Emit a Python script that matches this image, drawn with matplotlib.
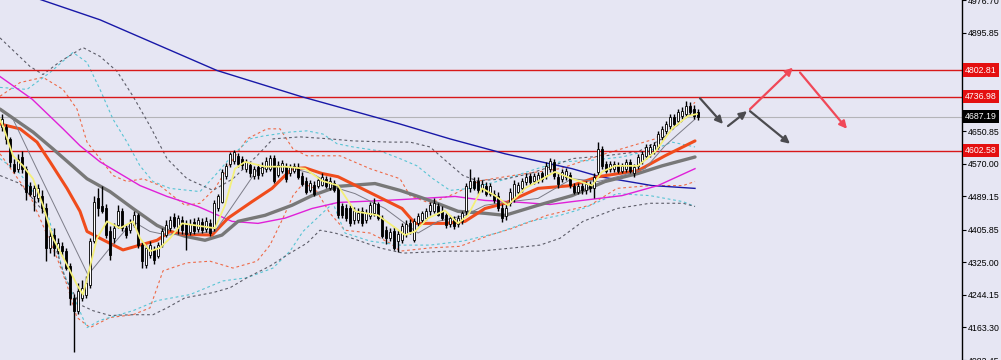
import numpy as np
import matplotlib.pyplot as plt
from matplotlib.transforms import blended_transform_factory

# candle data (one bar per index)
opens = [4661, 4661, 4632, 4570, 4558, 4587, 4558, 4516, 4491, 4484,
         4491, 4459, 4361, 4393, 4353, 4365, 4353, 4316, 4237, 4205,
         4237, 4245, 4269, 4378, 4484, 4464, 4459, 4402, 4385, 4417,
         4452, 4410, 4405, 4417, 4442, 4368, 4319, 4343, 4356, 4341,
         4368, 4393, 4410, 4437, 4412, 4430, 4420, 4400, 4425, 4407,
         4425, 4407, 4422, 4410, 4459, 4476, 4541, 4570, 4578, 4590,
         4583, 4558, 4568, 4541, 4563, 4548, 4558, 4558, 4585, 4543,
         4553, 4563, 4548, 4553, 4563, 4541, 4528, 4506, 4518, 4516,
         4518, 4533, 4509, 4523, 4509, 4464, 4459, 4459, 4430, 4430,
         4452, 4430, 4440, 4447, 4469, 4435, 4405, 4385, 4402, 4378,
         4380, 4395, 4422, 4380, 4422, 4430, 4435, 4452, 4452, 4464,
         4454, 4442, 4420, 4432, 4420, 4427, 4452, 4509, 4528, 4528,
         4509, 4516, 4496, 4496, 4489, 4459, 4440, 4472, 4484, 4501,
         4509, 4526, 4541, 4528, 4531, 4546, 4541, 4558, 4575, 4538,
         4533, 4538, 4543, 4516, 4501, 4516, 4504, 4521, 4509, 4550,
         4607, 4570, 4558, 4558, 4568, 4553, 4558, 4575, 4546, 4565,
         4578, 4590, 4595, 4602, 4612, 4637, 4652, 4664, 4686, 4676,
         4689, 4694, 4713, 4706, 4698]
closes = [4681, 4632, 4575, 4553, 4583, 4558, 4501, 4496, 4509, 4509,
          4459, 4361, 4390, 4361, 4373, 4353, 4311, 4237, 4205, 4254,
          4262, 4274, 4378, 4476, 4459, 4454, 4393, 4343, 4410, 4452,
          4410, 4393, 4422, 4442, 4368, 4328, 4361, 4368, 4331, 4368,
          4402, 4417, 4430, 4415, 4435, 4405, 4395, 4420, 4402, 4430,
          4405, 4427, 4398, 4472, 4489, 4550, 4565, 4595, 4600, 4570,
          4568, 4575, 4546, 4558, 4543, 4563, 4578, 4585, 4528, 4568,
          4573, 4533, 4563, 4565, 4538, 4521, 4501, 4523, 4496, 4531,
          4538, 4514, 4528, 4504, 4442, 4442, 4435, 4422, 4452, 4449,
          4422, 4447, 4467, 4472, 4435, 4390, 4385, 4400, 4361, 4395,
          4415, 4420, 4402, 4427, 4440, 4447, 4452, 4467, 4472, 4444,
          4435, 4417, 4435, 4415, 4435, 4447, 4516, 4528, 4511, 4504,
          4521, 4496, 4514, 4479, 4459, 4435, 4459, 4501, 4521, 4518,
          4528, 4538, 4526, 4541, 4543, 4533, 4565, 4578, 4541, 4521,
          4550, 4553, 4518, 4501, 4516, 4504, 4521, 4509, 4538, 4607,
          4565, 4553, 4570, 4570, 4553, 4565, 4575, 4553, 4563, 4587,
          4595, 4612, 4612, 4617, 4644, 4657, 4669, 4686, 4669, 4698,
          4701, 4713, 4698, 4689, 4687.19]
highs = [4694, 4669, 4637, 4583, 4595, 4602, 4565, 4526, 4518, 4521,
         4504, 4472, 4405, 4410, 4385, 4375, 4361, 4324, 4247, 4274,
         4282, 4292, 4385, 4491, 4509, 4514, 4469, 4415, 4422, 4467,
         4459, 4417, 4432, 4452, 4449, 4375, 4368, 4378, 4365, 4375,
         4410, 4430, 4440, 4447, 4444, 4440, 4430, 4432, 4435, 4437,
         4435, 4437, 4432, 4479, 4496, 4558, 4573, 4600, 4605, 4597,
         4590, 4583, 4575, 4565, 4570, 4575, 4587, 4592, 4592, 4578,
         4580, 4573, 4570, 4573, 4573, 4550, 4538, 4531, 4528, 4538,
         4546, 4541, 4538, 4531, 4518, 4472, 4469, 4467, 4462, 4459,
         4462, 4457, 4476, 4484, 4476, 4442, 4415, 4410, 4412, 4405,
         4422, 4430, 4432, 4435, 4449, 4454, 4459, 4474, 4484, 4472,
         4464, 4449, 4442, 4440, 4444, 4454, 4523, 4558, 4538, 4538,
         4531, 4526, 4523, 4506, 4499, 4469, 4469, 4509, 4531, 4526,
         4536, 4548, 4548, 4548, 4550, 4553, 4575, 4585, 4583, 4546,
         4558, 4560, 4550, 4523, 4523, 4523, 4528, 4528, 4546, 4624,
         4615, 4578, 4578, 4578, 4575, 4573, 4583, 4583, 4570, 4595,
         4602, 4620, 4620, 4624, 4652, 4664, 4676, 4694, 4694, 4706,
         4711, 4726, 4723, 4716, 4706]
lows = [4652, 4620, 4563, 4546, 4550, 4546, 4479, 4489, 4454, 4476,
        4447, 4328, 4348, 4341, 4346, 4341, 4306, 4220, 4102, 4198,
        4230, 4237, 4262, 4373, 4440, 4447, 4385, 4331, 4373, 4410,
        4402, 4385, 4398, 4412, 4361, 4311, 4311, 4336, 4321, 4336,
        4363, 4388, 4402, 4410, 4395, 4395, 4356, 4393, 4395, 4400,
        4398, 4400, 4390, 4402, 4452, 4472, 4533, 4563, 4570, 4563,
        4558, 4550, 4538, 4533, 4533, 4541, 4550, 4553, 4523, 4538,
        4546, 4526, 4541, 4546, 4533, 4516, 4494, 4499, 4489, 4509,
        4514, 4509, 4504, 4499, 4435, 4435, 4427, 4415, 4420, 4422,
        4415, 4422, 4432, 4440, 4430, 4385, 4370, 4378, 4356, 4351,
        4373, 4388, 4395, 4375, 4415, 4422, 4430, 4444, 4447, 4440,
        4430, 4410, 4412, 4407, 4412, 4420, 4444, 4501, 4504, 4496,
        4501, 4489, 4489, 4472, 4452, 4425, 4430, 4464, 4476, 4494,
        4501, 4518, 4518, 4521, 4523, 4526, 4533, 4550, 4533, 4509,
        4526, 4531, 4511, 4494, 4494, 4496, 4496, 4499, 4484, 4543,
        4558, 4546, 4550, 4550, 4546, 4546, 4550, 4546, 4538, 4558,
        4570, 4583, 4587, 4595, 4607, 4629, 4644, 4657, 4661, 4669,
        4681, 4686, 4691, 4681, 4679]

# indicator lines: (bar index, price) read at intervals
blue_x = [-0.5, 10, 24.5, 53.75, 74.5, 99.5, 112, 125.75, 142.5, 149.5, 162.5, 173.25]
blue_y = [5012, 4977, 4928, 4802, 4738, 4669, 4632, 4595, 4558, 4538, 4516, 4509]

magenta_x = [-0.5, 7.5, 15.25, 19.5, 24.5, 28.75, 34.5, 41.25, 49, 57.5, 64, 70.75, 77.5, 84,
             95.75, 105, 113.25, 120.75, 127, 137, 142.5, 155, 164, 173.25]
magenta_y = [4787, 4731, 4657, 4615, 4575, 4550, 4516, 4489, 4464, 4427, 4422, 4435, 4459, 4474,
             4479, 4484, 4489, 4479, 4476, 4469, 4476, 4491, 4516, 4558]

grey_ma_x = [-0.5, 7.75, 12.75, 21.25, 27, 32.75, 38.75, 42, 45.75, 50.75, 55, 59, 65.75, 72.5,
             77.5, 84, 93.25, 99.5, 104, 107.75, 114, 120.75, 125.75, 134, 142.5, 150.75, 159,
             165, 173.25]
grey_ma_y = [4706, 4649, 4607, 4533, 4501, 4459, 4417, 4402, 4390, 4380, 4393, 4427, 4442, 4467,
             4491, 4514, 4521, 4504, 4489, 4476, 4452, 4447, 4442, 4467, 4491, 4526, 4546,
             4565, 4587]

orange_ma_x = [-0.5, 4.5, 8.75, 12, 16.25, 19.5, 21.25, 24.5, 30.25, 34.5, 38.75, 42, 45, 52.5,
               56.5, 62.5, 67.5, 72.5, 75.75, 80, 84, 91.5, 100, 103.25, 110.75, 115.75, 120.75,
               125.75, 134, 142.5, 149, 159, 165.75, 173.25]
orange_ma_y = [4669, 4657, 4624, 4575, 4509, 4452, 4402, 4385, 4356, 4368, 4380, 4402, 4395, 4393,
               4435, 4476, 4509, 4558, 4560, 4546, 4538, 4501, 4459, 4422, 4422, 4427, 4459,
               4472, 4509, 4516, 4538, 4553, 4590, 4627]

yellow_x = [-0.5, 0.25, 2.75, 5.25, 7.75, 10.25, 12.75, 16.25, 18.75, 20.25, 21.5, 23.75, 26.25,
            29.5, 32.75, 34.5, 37, 39.5, 42, 45, 53.25, 55.75, 58.25, 60.75, 65.75, 70.75, 75.75,
            80, 84, 88.25, 94, 97.5, 100.75, 103.25, 106.5, 110.75, 114, 116.5, 120, 123.25,
            126.5, 130.75, 138.25, 142.5, 147.5, 150, 153.25, 159, 163.25, 167.5, 171.5, 173.75]
yellow_y = [4681, 4664, 4590, 4565, 4533, 4467, 4385, 4319, 4269, 4245, 4294, 4385, 4427,
            4410, 4427, 4385, 4353, 4361, 4385, 4422, 4410, 4467, 4558, 4575, 4563, 4563, 4558,
            4528, 4516, 4452, 4442, 4417, 4393, 4402, 4435, 4454, 4422, 4442, 4509, 4491,
            4467, 4509, 4550, 4533, 4516, 4550, 4565, 4565, 4600, 4657, 4689, 4694]

thin_x = [2.75, 9.5, 16.25, 21.5, 27, 32.75, 37, 41.25, 49.5, 53.25, 64, 70.75, 77.5, 84, 88.25,
          95.75, 104, 109, 115.75, 120.75, 127, 134, 142.5, 149, 155, 160.75, 165.75, 173.25]
thin_y = [4681, 4541, 4402, 4294, 4361, 4427, 4402, 4393, 4398, 4402, 4558, 4563, 4546, 4509,
          4496, 4459, 4398, 4427, 4442, 4467, 4476, 4484, 4533, 4526, 4541, 4558, 4615, 4681]

# dashed envelopes
orange_up_x = [-0.5, 4.5, 10.25, 15.25, 18.75, 21.25, 24.5, 27.75, 31.25, 35.25, 39.5, 42, 45.75,
               49.5, 53.25, 57, 61.25, 66.25, 69.5, 72.75, 76.25, 84.5, 92, 99.5, 102, 107,
               113.25, 119.5, 127.75, 139.5, 150.75, 163.25, 169, 173.25]
orange_up_y = [4738, 4772, 4785, 4755, 4706, 4624, 4583, 4541, 4526, 4533, 4516, 4496, 4467,
               4472, 4509, 4570, 4632, 4657, 4657, 4607, 4590, 4590, 4558, 4533, 4491, 4472,
               4496, 4528, 4541, 4558, 4595, 4632, 4681, 4723]
orange_lo_x = [-0.5, 7, 10.25, 13.75, 16.25, 18.75, 22, 27, 32.75, 37, 40.25, 46.25, 52, 57.75,
               63.75, 67, 70.25, 72.75, 75.25, 78.25, 82, 85.75, 92, 97, 99.5, 107, 114.5, 122,
               127.75, 136.25, 147, 153.75, 162, 170.25, 173.25]
orange_lo_y = [4595, 4491, 4417, 4336, 4269, 4188, 4163, 4188, 4195, 4212, 4304, 4324, 4328,
               4311, 4328, 4368, 4435, 4491, 4521, 4509, 4447, 4405, 4398, 4373, 4353, 4361,
               4365, 4393, 4410, 4442, 4467, 4509, 4516, 4516, 4526]
cyan_up_x = [-0.5, 6.25, 12, 17.75, 21.25, 24.5, 27.75, 31.25, 34.5, 37.75, 42, 49.5, 53.25,
             57.5, 62, 65.25, 72, 76.25, 80.25, 83.75, 87.75, 94.5, 99.5, 103.75, 107.75, 112,
             117, 124.5, 133.75, 139.5, 146.5, 155, 163.25, 167.5, 173.25]
cyan_up_y = [4760, 4755, 4797, 4847, 4822, 4755, 4681, 4624, 4565, 4526, 4509, 4501, 4541,
             4590, 4632, 4639, 4649, 4652, 4644, 4620, 4612, 4602, 4583, 4565, 4533, 4504,
             4509, 4528, 4558, 4575, 4578, 4587, 4607, 4624, 4612]
cyan_lo_x = [-0.5, 4.5, 11.25, 15.25, 18.75, 21.25, 24.5, 32.75, 38.75, 47, 55.25, 61.25, 67.75,
             72, 75.25, 79.5, 82.75, 85.75, 92, 99.5, 107, 115.25, 123.75, 132, 139.5, 145.25,
             153.75, 162, 170.25, 173.25]
cyan_lo_y = [4583, 4546, 4452, 4304, 4220, 4163, 4181, 4205, 4230, 4245, 4279, 4287, 4311,
             4353, 4402, 4442, 4472, 4398, 4378, 4368, 4368, 4378, 4398, 4427, 4442, 4459,
             4496, 4491, 4476, 4464]
grey_up_x = [-0.5, 7, 10.25, 14.5, 20.25, 24.5, 28.75, 32.75, 37, 41.25, 46.25, 52.75, 57.75,
             63.75, 67.75, 74.5, 82, 87.75, 97, 102, 107, 111.25, 115.25, 118.75, 126.25, 132,
             137.75, 142.5, 150.75, 159, 165, 171.5, 173.25]
grey_up_y = [4883, 4812, 4792, 4824, 4859, 4837, 4800, 4738, 4664, 4583, 4533, 4504, 4533,
             4590, 4632, 4637, 4632, 4627, 4624, 4624, 4612, 4575, 4541, 4528, 4533, 4546,
             4565, 4583, 4590, 4600, 4632, 4689, 4706]
grey_lo_x = [-0.5, 4.5, 10.75, 15.75, 19.5, 22.75, 27, 32.75, 37.75, 41.25, 45.75, 52.75, 57,
             61.25, 67, 72, 76.25, 79.5, 83.25, 87.5, 94.5, 100.25, 111.25, 119.5, 127.75, 134.5,
             139.5, 145.25, 153.75, 162, 170.25, 173.25]
grey_lo_y = [4541, 4521, 4447, 4287, 4220, 4205, 4193, 4195, 4195, 4212, 4237, 4250, 4262,
             4287, 4316, 4348, 4373, 4405, 4398, 4385, 4361, 4348, 4353, 4353, 4361, 4368,
             4385, 4427, 4459, 4472, 4472, 4464]

# levels and labels
levels = [4802.81, 4736.98, 4602.58]
last_price = 4687.19
tick_values = [4976.70, 4895.85, 4815.00, 4650.85, 4570.00, 4489.15, 4405.85,
               4325.00, 4244.15, 4163.30, 4082.45]

# forecast arrows: start (x, price) -> end (x, price)
arrow_x0 = [174.5, 181.5, 187, 187, 199.5]
arrow_y0 = [4733, 4664, 4701, 4706, 4797]
arrow_x1 = [180.25, 186.25, 197, 197.75, 211.25]
arrow_y1 = [4669, 4701, 4620, 4809, 4657]
arrow_col = ['#4b4b4f', '#4b4b4f', '#4b4b4f', '#f04858', '#f04858']

bg = '#e6e6f3'
fig = plt.figure(figsize=(10.01, 3.6), dpi=100, facecolor=bg)
ax = fig.add_axes([0, 0, 962 / 1001, 1])
ax.set_facecolor(bg)

# dashed bands
dash = dict(lw=0.8, ls=(0, (2.5, 2.5)))
ax.plot(orange_up_x, orange_up_y, color='#ee6a48', **dash)
ax.plot(orange_lo_x, orange_lo_y, color='#ee6a48', **dash)
ax.plot(cyan_up_x, cyan_up_y, color='#58c4d4', **dash)
ax.plot(cyan_lo_x, cyan_lo_y, color='#58c4d4', **dash)
ax.plot(grey_up_x, grey_up_y, color='#5c5c68', **dash)
ax.plot(grey_lo_x, grey_lo_y, color='#5c5c68', **dash)

# horizontal levels
for lv in levels:
    ax.axhline(lv, color='#d81818', lw=1.0, zorder=2)
ax.axhline(last_price, color='#b4b4b8', lw=0.8, zorder=1)

# moving averages
ax.plot(blue_x, blue_y, color='#1818a8', lw=1.0)
ax.plot(magenta_x, magenta_y, color='#e020d8', lw=1.0)
ax.plot(grey_ma_x, grey_ma_y, color='#787878', lw=2.4, solid_capstyle='round')
ax.plot(orange_ma_x, orange_ma_y, color='#f04c1c', lw=2.2, solid_capstyle='round')
ax.plot(thin_x, thin_y, color='#7c7c88', lw=0.7)

# candles
x = np.arange(len(closes))
o = np.array(opens); c = np.array(closes)
h = np.array(highs); l = np.array(lows)
ax.vlines(x, l, h, color='black', lw=1.0, zorder=4)
up = c >= o
ax.bar(x[up], (c - o)[up], bottom=o[up], width=0.7, color='white',
       edgecolor='black', lw=0.6, zorder=5)
ax.bar(x[~up], (o - c)[~up], bottom=c[~up], width=0.7, color='black',
       edgecolor='black', lw=0.6, zorder=5)

ax.plot(yellow_x, yellow_y, color='#f4f07a', lw=1.3, zorder=6)

# arrows
for x0, y0, x1, y1, col in zip(arrow_x0, arrow_y0, arrow_x1, arrow_y1, arrow_col):
    ax.annotate('', xy=(x1, y1), xytext=(x0, y0),
                arrowprops=dict(arrowstyle='-|>', color=col, lw=1.6,
                                mutation_scale=11, shrinkA=0, shrinkB=0))

ax.set_xlim(-0.5, 240)
ax.set_ylim(4089.3, 4977.2)
ax.set_xticks([])
for s in ['left', 'top', 'bottom']:
    ax.spines[s].set_visible(False)
ax.spines['right'].set_color('black')
ax.spines['right'].set_linewidth(1.0)
ax.yaxis.tick_right()
ax.set_yticks(tick_values)
ax.set_yticklabels([f'{v:.2f}' for v in tick_values])
ax.tick_params(axis='y', direction='out', length=3, width=0.8, pad=1,
               labelsize=6.3, labelcolor='black')
for t in ax.get_yticklabels():
    t.set_fontfamily('Liberation Sans')

trans = blended_transform_factory(ax.transAxes, ax.transData)
for lv in levels:
    ax.text(1.003, lv, f'{lv:.2f}', transform=trans, ha='left', va='center',
            fontsize=6.3, family='Liberation Sans', color='white', clip_on=False, zorder=10,
            bbox=dict(boxstyle='square,pad=0.25', fc='#e41010', ec='none'))
ax.text(1.003, last_price, f'{last_price:.2f}', transform=trans, ha='left', va='center',
        fontsize=6.3, family='Liberation Sans', color='white', clip_on=False, zorder=10,
        bbox=dict(boxstyle='square,pad=0.25', fc='black', ec='none'))

plt.savefig('out.png', dpi=100, facecolor=bg)
